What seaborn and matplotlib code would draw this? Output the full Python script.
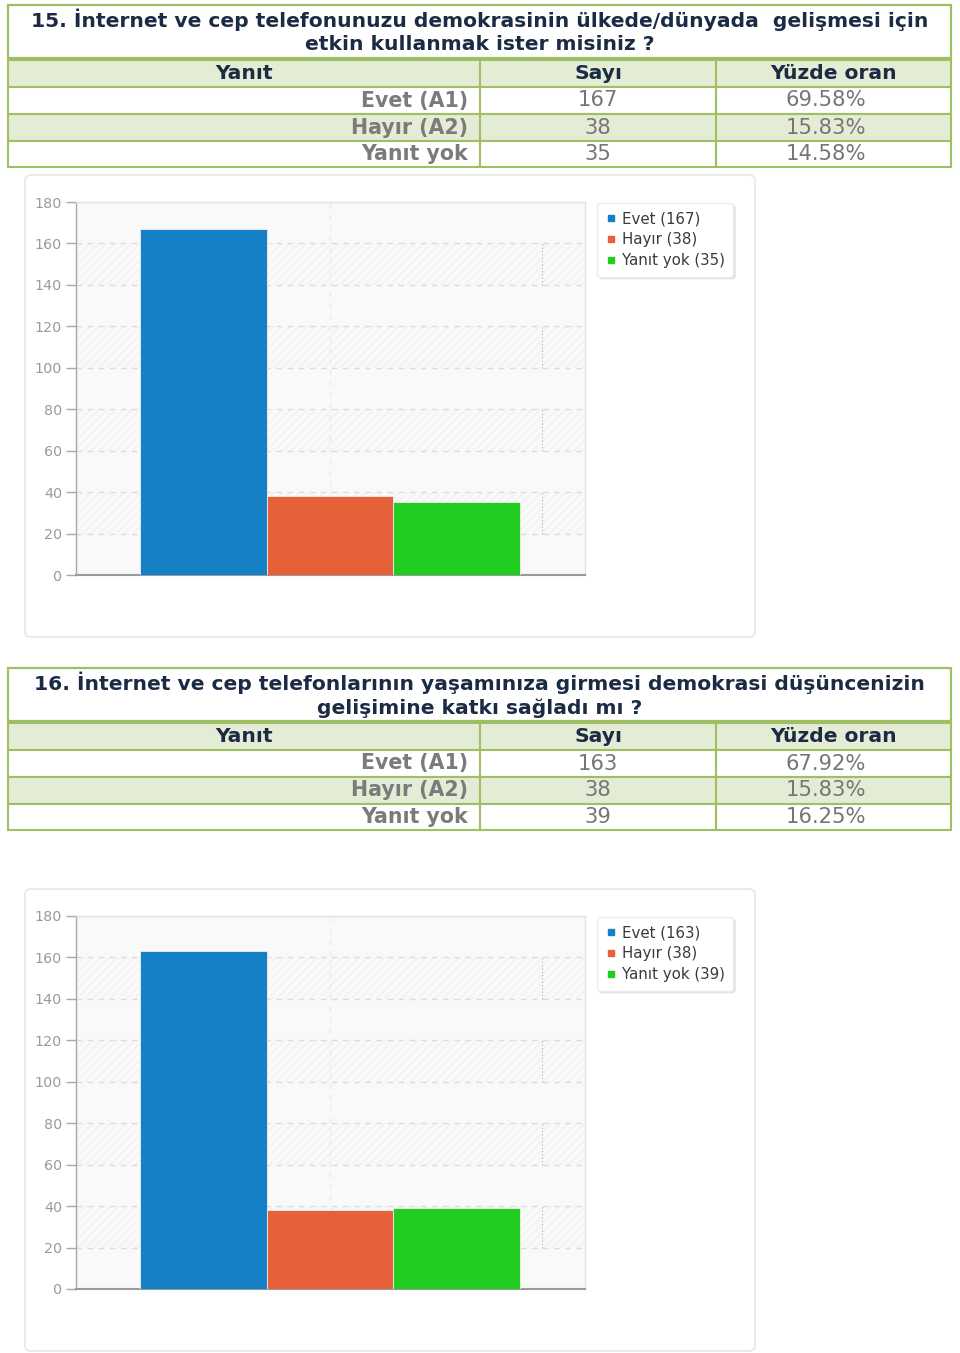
import matplotlib
matplotlib.use("Agg")
import matplotlib.pyplot as plt
import seaborn as sns
import pandas as pd
from matplotlib.patches import Rectangle, FancyBboxPatch
from matplotlib.lines import Line2D

# ---------------- data ----------------
q1_title = ["15. İnternet ve cep telefonunuzu demokrasinin ülkede/dünyada  gelişmesi için",
            "etkin kullanmak ister misiniz ?"]
q2_title = ["16. İnternet ve cep telefonlarının yaşamınıza girmesi demokrasi düşüncenizin",
            "gelişimine katkı sağladı mı ?"]
columns = ["Yanıt", "Sayı", "Yüzde oran"]
answer_labels = ["Evet (A1)", "Hayır (A2)", "Yanıt yok"]
legend_names = ["Evet", "Hayır", "Yanıt yok"]
q1_counts = [167, 38, 35]
q1_percents = ["69.58%", "15.83%", "14.58%"]
q2_counts = [163, 38, 39]
q2_percents = ["67.92%", "15.83%", "16.25%"]
bar_colors = ["#1580c6", "#e6603a", "#21cc21"]
y_ticks = [0, 20, 40, 60, 80, 100, 120, 140, 160, 180]

# ---------------- style ----------------
sns.set_style("white")
plt.rcParams['font.family'] = ['DejaVu Sans']
plt.rcParams['hatch.linewidth'] = 0.6

W, H = 960, 1353
fig = plt.figure(figsize=(W / 100, H / 100), dpi=100)
fig.patch.set_facecolor("white")

GREEN = "#9fbf63"
LIGHT = "#e4ecd5"
NAVY = "#1c2b44"
GRAY_B = "#7b7b7b"
GRAY_N = "#767676"


def rect_px(x0, y0, x1, y1, **kw):
    r = Rectangle((x0 / W, 1 - y1 / H), (x1 - x0) / W, (y1 - y0) / H,
                  transform=fig.transFigure, **kw)
    fig.add_artist(r)
    return r


def text_px(x, y, s, **kw):
    fig.text(x / W, 1 - y / H, s, va="center", **kw)


def draw_table(off, title, counts, percents):
    rect_px(8, 5 + off, 951, 58 + off, facecolor="white", edgecolor=GREEN, lw=1.6)
    text_px(479.5, 20 + off, title[0], ha="center", fontsize=14.6, fontweight="bold", color=NAVY)
    text_px(479.5, 45 + off, title[1], ha="center", fontsize=14.6, fontweight="bold", color=NAVY)
    col_x = [8, 480, 716, 951]
    row_y = [60, 87, 114, 141, 167]
    fills = [LIGHT, "white", LIGHT, "white"]
    for r in range(4):
        for c in range(3):
            rect_px(col_x[c], row_y[r] + off, col_x[c + 1], row_y[r + 1] + off,
                    facecolor=fills[r], edgecolor=GREEN, lw=1.5)
    centers = [(row_y[i] + row_y[i + 1]) / 2 + off for i in range(4)]
    for c, name in enumerate(columns):
        text_px((col_x[c] + col_x[c + 1]) / 2, centers[0], name, ha="center",
                fontsize=14.6, fontweight="bold", color=NAVY)
    for i in range(3):
        text_px(468, centers[i + 1], answer_labels[i], ha="right", fontsize=14.8,
                fontweight="bold", color=GRAY_B)
        text_px(598, centers[i + 1], str(counts[i]), ha="center", fontsize=15.2, color=GRAY_N)
        text_px(826, centers[i + 1], percents[i], ha="center", fontsize=15.2, color=GRAY_N)


ARTIFACT_X = 2.67  # faint dotted vertical artefact seen in the source rendering


def draw_chart(off, counts):
    panel = FancyBboxPatch((25 / 100, (H - (637 + off)) / 100), 730 / 100, 462 / 100,
                           boxstyle="round,pad=0,rounding_size=0.06",
                           transform=fig.dpi_scale_trans, facecolor="white",
                           edgecolor="#e6e6e6", lw=1.2, zorder=-5)
    fig.add_artist(panel)
    ax = fig.add_axes([76 / W, 1 - (575 + off) / H, 509 / W, 373 / H])
    ax.set_zorder(2)
    df = pd.DataFrame({"answer": legend_names, "count": counts})
    sns.barplot(data=df, x="answer", y="count", hue="answer", palette=bar_colors,
                width=1, saturation=1, legend=False, ax=ax,
                edgecolor="#f0f0f0", linewidth=0.6, zorder=3)
    ax.set_facecolor("#f9f9f9")
    ax.set_xlim(-1.005, 3.013)
    ax.set_ylim(0, 180)
    ax.set_yticks(y_ticks)
    ax.set_xticks([1])
    ax.set_xticklabels([""])
    ax.set_xlabel("")
    ax.set_ylabel("")
    ax.tick_params(axis="x", length=0)
    ax.tick_params(axis="y", length=7, width=1, color="#a8a8a8", labelcolor="#9a9a9a",
                   labelsize=10.3, pad=3, left=True)
    for s in ["top", "right"]:
        ax.spines[s].set_color("#e2e2e2")
        ax.spines[s].set_linewidth(1)
    ax.spines["left"].set_color("#a8a8a8")
    ax.spines["left"].set_linewidth(1)
    ax.spines["bottom"].set_color("#9a9a9a")
    ax.spines["bottom"].set_linewidth(1.5)
    ax.xaxis.grid(True, color="#ececec", lw=1, ls=(0, (4, 4)), zorder=1)
    ax.set_axisbelow(True)
    for t in y_ticks[1:]:
        ax.axhline(t, color="#dcdcdc", lw=1, ls=(0, (4, 4)), zorder=1)
    for lo in y_ticks[1:-1:2]:
        ax.axhspan(lo, lo + 20, facecolor="none", edgecolor="#ededed", hatch="////",
                   lw=0, zorder=0.5)
        ax.vlines(ARTIFACT_X, lo, lo + 20, colors="#b0b0b0", lw=0.8, ls=(0, (1, 2)), zorder=2)

    handles = [Line2D([], [], marker="s", ls="none", markersize=4.5, color=c) for c in bar_colors]
    labels = [f"{n} ({v})" for n, v in zip(legend_names, counts)]
    ax.legend(handles, labels, loc="upper left",
              bbox_to_anchor=(597 / W, 1 - (203 + off) / H), bbox_transform=fig.transFigure,
              borderaxespad=0, frameon=True, fancybox=True, fontsize=10.8,
              labelcolor="#3a3a3a", handlelength=0.7, handletextpad=0.4,
              labelspacing=0.4, borderpad=0.55, edgecolor="#ececec", framealpha=1,
              shadow={"ox": 1.5, "oy": -1.5, "facecolor": "#e2e2e2",
                      "edgecolor": "#e2e2e2", "alpha": 1})
    return ax


draw_table(0, q1_title, q1_counts, q1_percents)
draw_chart(0, q1_counts)
draw_table(663, q2_title, q2_counts, q2_percents)
draw_chart(714, q2_counts)

fig.savefig("out.png", dpi=100, facecolor="white")
